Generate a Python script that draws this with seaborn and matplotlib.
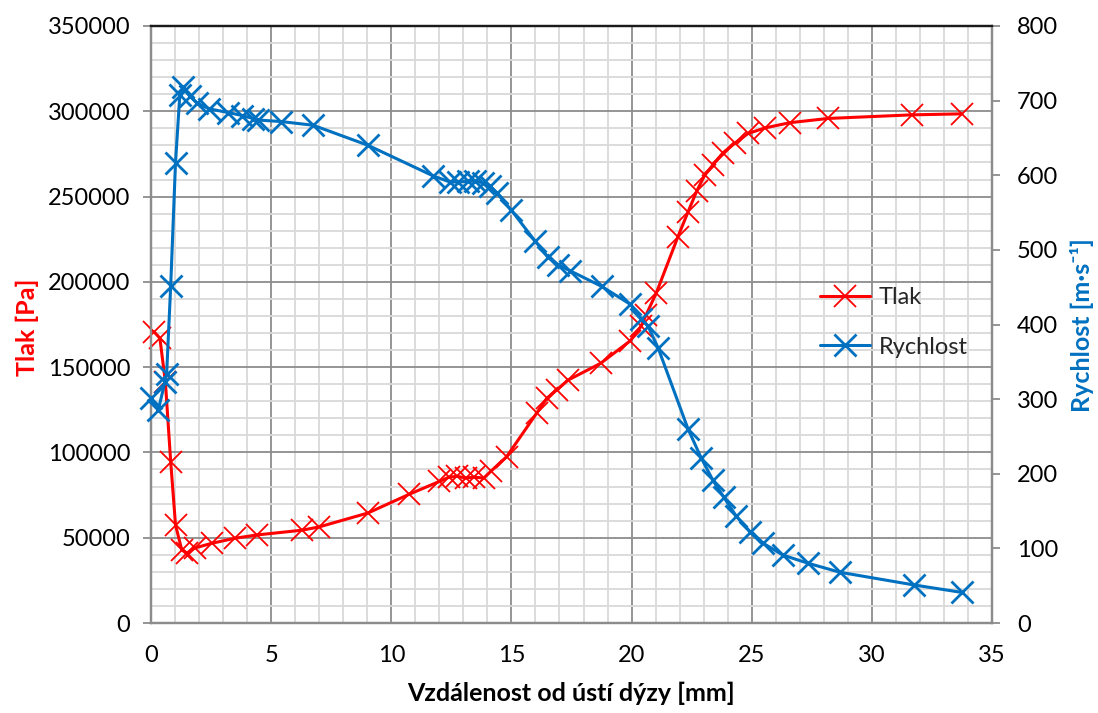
import numpy as np
import pandas as pd
import matplotlib
matplotlib.use("Agg")
import matplotlib.pyplot as plt
import seaborn as sns
from matplotlib.ticker import MultipleLocator

# ---- data ----
x_tlak = [0.12, 0.37, 0.6, 0.82, 1.02, 1.28, 1.5, 1.83, 2.52, 3.5, 4.4, 6.28, 6.99,
          9.03, 10.75, 12.0, 12.4, 12.75, 13.1, 13.45, 13.85, 14.15, 14.8, 16.05,
          16.47, 16.88, 17.37, 18.72, 19.95, 20.4, 20.6, 21.03, 21.93, 22.35, 22.72,
          23.04, 23.39, 23.8, 24.29, 24.85, 25.54, 26.58, 28.18, 31.65, 33.74]
p_tlak = [170800, 167000, 141000, 94500, 57500, 42800, 41000, 44000, 46700, 49700,
          51600, 54400, 56300, 64500, 75500, 83000, 85500, 86000, 85000, 85500, 85000,
          89000, 97500, 123000, 131700, 136600, 142500, 152300, 165500, 174000, 180500,
          193500, 226500, 241000, 253500, 262400, 268700, 275600, 281200, 287000,
          290200, 293300, 295800, 297900, 298500]

x_rych = [0.0, 0.3, 0.58, 0.65, 0.82, 1.02, 1.2, 1.35, 1.62, 1.9, 2.42, 3.22, 3.8,
          4.25, 4.45, 5.4, 6.75, 9.04, 11.75, 12.44, 12.79, 13.2, 13.5, 13.8, 14.1,
          14.4, 15.0, 15.98, 16.53, 16.95, 17.44, 18.76, 19.95, 20.4, 20.68, 21.1,
          22.35, 22.9, 23.39, 23.83, 24.36, 24.94, 25.47, 26.3, 27.35, 28.67, 31.75, 33.74]
v_rych = [301, 285, 323, 333, 452, 617, 708, 718, 706, 697, 689, 684, 680, 676, 674,
          672, 667, 640, 599, 591, 591, 592, 592, 590, 586, 576, 553, 512, 490, 480,
          472, 451, 427, 408, 398, 369, 260, 221, 191, 169, 143, 122, 107, 91, 80, 68,
          51, 41]

x_ticks = [0, 5, 10, 15, 20, 25, 30, 35]
left_ticks = [0, 50000, 100000, 150000, 200000, 250000, 300000, 350000]
right_ticks = [0, 100, 200, 300, 400, 500, 600, 700, 800]

RED = "#FF0000"
BLUE = "#0070C0"

sns.set_style("white")
plt.rcParams["font.family"] = ["Lato", "DejaVu Sans"]

fig = plt.figure(figsize=(10.98, 7.13), dpi=100)
ax = fig.add_axes([151 / 1098, 1 - 623 / 713, (992 - 151) / 1098, (623 - 26) / 713])
ax2 = ax.twinx()

df_t = pd.DataFrame({"x": x_tlak, "y": p_tlak})
df_r = pd.DataFrame({"x": x_rych, "y": v_rych})

sns.lineplot(data=df_t, x="x", y="y", ax=ax, color=RED, linewidth=2.2, marker="x",
             markersize=16, markeredgewidth=1.3, markeredgecolor=RED, label="Tlak",
             clip_on=False, zorder=3, legend=False)
sns.lineplot(data=df_r, x="x", y="y", ax=ax2, color=BLUE, linewidth=2.2, marker="x",
             markersize=16, markeredgewidth=2.0, markeredgecolor=BLUE, label="Rychlost",
             clip_on=False, zorder=3, legend=False)

ax.set_xlim(0, 35)
ax.set_ylim(0, 350000)
ax2.set_ylim(0, 800)
ax.set_xticks(x_ticks)
ax.set_yticks(left_ticks)
ax2.set_yticks(right_ticks)
ax.set_yticklabels([str(t) for t in left_ticks])
ax2.set_yticklabels([str(t) for t in right_ticks])
ax.xaxis.set_minor_locator(MultipleLocator(1))
ax.yaxis.set_minor_locator(MultipleLocator(10000))

ax.grid(which="minor", color="#D9D9D9", linewidth=1.3, zorder=0)
ax.grid(which="major", color="#8C8C8C", linewidth=1.3, zorder=1)
ax.set_axisbelow(True)

for a in (ax, ax2):
    for s in a.spines.values():
        s.set_color("#8C8C8C")
        s.set_linewidth(1.6)
    a.spines["top"].set_color("#1a1a1a")
    a.set_xlabel("")
    a.set_ylabel("")

ax.tick_params(axis="both", which="major", labelsize=17, length=6, color="#8C8C8C",
               width=1.3, direction="out", pad=9, labelcolor="black")
ax.tick_params(axis="both", which="minor", length=0)
ax2.tick_params(axis="y", which="major", labelsize=17, length=6, color="#8C8C8C",
                width=1.3, direction="out", pad=12, labelcolor="black")
ax.tick_params(axis="x", pad=10)

fig.text(571.5 / 1098, 1 - 693 / 713, "Vzdálenost od ústí dýzy [mm]", ha="center",
         va="center", fontsize=18, fontweight="bold", color="black")
fig.text(27 / 1098, 1 - 327 / 713, "Tlak [Pa]", ha="center", va="center", rotation=90,
         fontsize=18, fontweight="bold", color=RED)
fig.text(1082 / 1098, 1 - 325 / 713, "Rychlost [m·s⁻¹]", ha="center", va="center",
         rotation=90, fontsize=18, fontweight="bold", color=BLUE)

h1, l1 = ax.get_legend_handles_labels()
h2, l2 = ax2.get_legend_handles_labels()
leg = ax2.legend(h1 + h2, l1 + l2, loc="center left",
                 bbox_to_anchor=(820 / 1098, 1 - 322.5 / 713),
                 bbox_transform=fig.transFigure, frameon=False, fontsize=17,
                 handlelength=2.1, handletextpad=0.4, labelspacing=1.2,
                 borderpad=0, borderaxespad=0)

fig.savefig("out.png", dpi=100)
